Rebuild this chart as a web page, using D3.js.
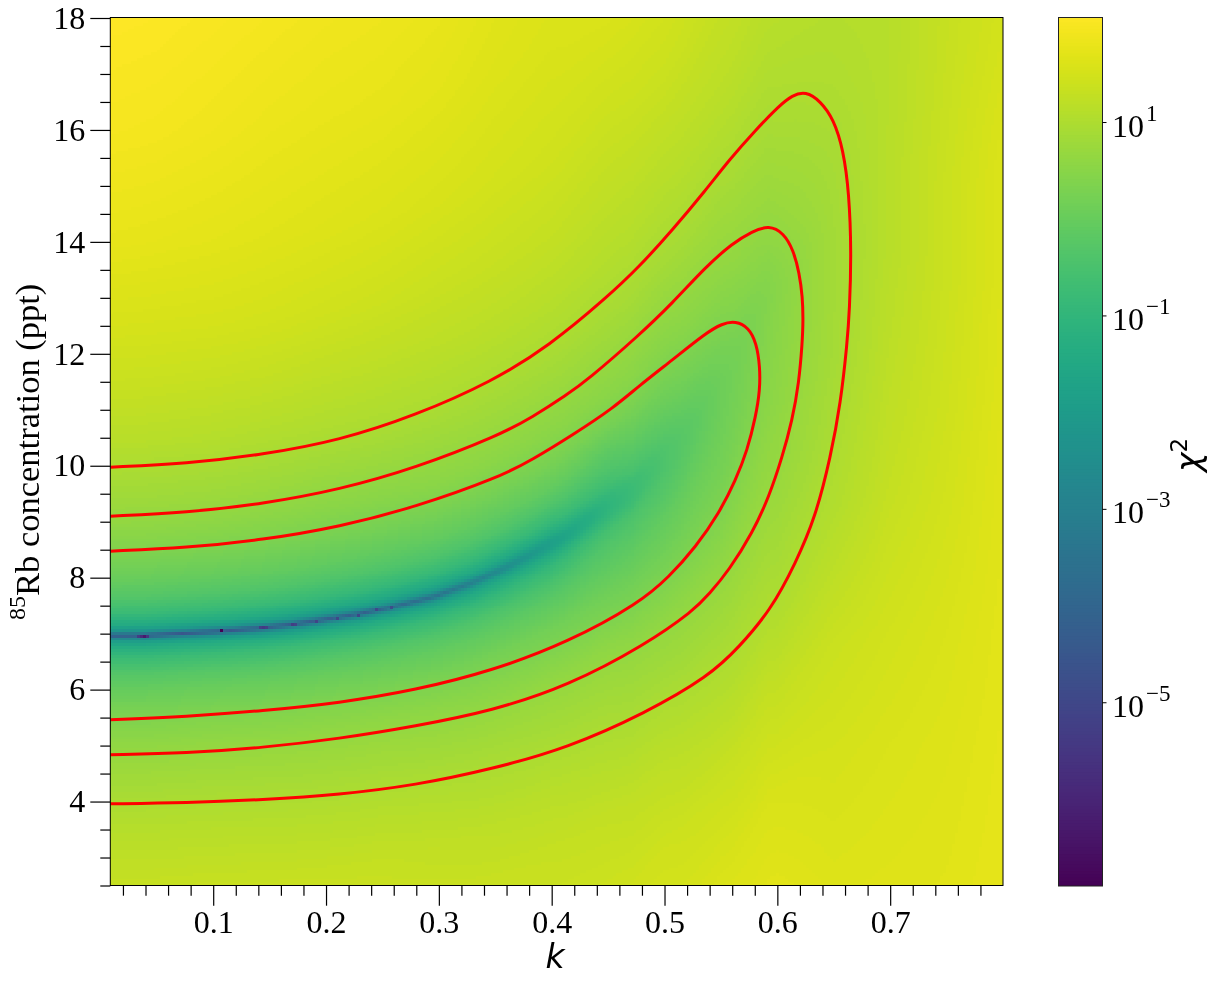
<!DOCTYPE html>
<html><head><meta charset="utf-8">
<script src="https://cdn.jsdelivr.net/npm/d3@7"></script>
<style>
html,body{margin:0;padding:0;background:#fff;width:1219px;height:982px;overflow:hidden}
canvas,svg{position:absolute;left:0;top:0}
text{font-family:"Liberation Serif",serif;fill:#000}
</style></head><body>
<canvas id="heat" width="1219" height="982"></canvas>
<svg id="chart" width="1219" height="982"></svg>
<script>
// ---- data ----
const kMajor = [0.1,0.2,0.3,0.4,0.5,0.6,0.7];
const kMinor = [0.02,0.04,0.06,0.08,0.12,0.14,0.16,0.18,0.22,0.24,0.26,0.28,0.32,0.34,0.36,0.38,0.42,0.44,0.46,0.48,0.52,0.54,0.56,0.58,0.62,0.64,0.66,0.68,0.72,0.74,0.76,0.78];
const concMajor = [4,6,8,10,12,14,16,18];
const concMinor = [2.5,3,3.5,4.5,5,5.5,6.5,7,7.5,8.5,9,9.5,10.5,11,11.5,12.5,13,13.5,14.5,15,15.5,16.5,17,17.5];
const cbTicks = [10,0.1,0.001,0.00001];
const cbExp = ["1","\u22121","\u22123","\u22125"];

// line of the chi-square minimum (valley), k -> concentration
const valleyK = [0.0088,0.039,0.1068,0.1439,0.1711,0.1932,0.2287,0.259,0.2962,0.3303,0.3776,0.4121,0.4422,0.4713,0.5154,0.5367,0.5616,0.5926,0.65,0.7,0.8];
const valleyC = [6.96,6.96,7.037,7.094,7.157,7.223,7.337,7.464,7.652,7.898,8.345,8.724,9.153,9.511,10.404,10.994,11.709,12.96,13.8,14,14];

// isolated very dark cells on the valley
const spotK = [0.033,0.036,0.039,0.042,0.1068,0.141,0.144,0.147,0.1705,0.173,0.1931,0.2117,0.2287,0.2457,0.259];
const spotLog = [-5.3,-5.8,-6.3,-5.5,-6.9,-5.2,-5.4,-5.2,-5.3,-5.1,-5.1,-5.0,-5.0,-4.9,-4.8];

// log10(chi2) sampled at these k columns and at these offsets from the valley line
const gridK = [0.01,0.05,0.1,0.15,0.2,0.25,0.3,0.35,0.4,0.45,0.5,0.55,0.6,0.65,0.7,0.75,0.8];
const gridOff = [-12,-9,-7,-5.5,-4.5,-3.5,-3,-2.5,-2,-1.5,-1,-0.7,-0.4,-0.2,-0.1,-0.05,0,0.05,0.1,0.2,0.4,0.7,1,1.5,2,2.5,3,3.5,4.5,5.5,7,9,11];
const logChi = [
 [1.65,1.58,1.5,1.42,1.31,1.1,.96,.8,.61,.36,.01,-.3,-.79,-1.39,-2.0,-2.9,-4.5,-2.9,-2.0,-1.39,-.79,-.3,.01,.36,.61,.81,.96,1.12,1.34,1.52,1.75,1.95,2.07],
 [1.65,1.58,1.5,1.42,1.31,1.1,.96,.8,.61,.36,.01,-.3,-.79,-1.39,-2.0,-2.9,-4.5,-2.92,-2.01,-1.4,-.8,-.31,0,.35,.6,.8,.95,1.11,1.33,1.51,1.73,1.93,2.05],
 [1.65,1.58,1.5,1.42,1.32,1.1,.96,.81,.62,.38,.03,-.28,-.77,-1.37,-1.97,-2.85,-4.5,-2.95,-2.03,-1.42,-.82,-.34,-.03,.33,.58,.78,.94,1.09,1.31,1.5,1.7,1.88,2.0],
 [1.65,1.58,1.5,1.42,1.31,1.09,.95,.8,.61,.37,.02,-.29,-.78,-1.38,-1.98,-2.88,-4.4,-2.97,-2.06,-1.46,-.86,-.37,-.06,.29,.54,.74,.9,1.05,1.28,1.47,1.66,1.82,1.95],
 [1.6,1.55,1.48,1.4,1.3,1.07,.93,.78,.6,.36,.01,-.3,-.79,-1.39,-1.99,-2.9,-4.3,-2.98,-2.09,-1.49,-.89,-.4,-.09,.26,.51,.69,.88,1.02,1.24,1.43,1.62,1.78,1.9],
 [1.6,1.55,1.47,1.38,1.29,1.06,.92,.77,.58,.33,-.02,-.32,-.81,-1.41,-1.99,-2.8,-4.1,-2.9,-2.06,-1.49,-.91,-.42,-.11,.24,.49,.68,.86,1.0,1.21,1.39,1.58,1.75,1.87],
 [1.6,1.55,1.45,1.37,1.24,1.02,.88,.72,.53,.28,-.07,-.38,-.87,-1.46,-1.99,-2.7,-3.6,-2.8,-2.04,-1.49,-.91,-.42,-.1,.25,.52,.68,.84,.98,1.18,1.34,1.53,1.7,1.82],
 [1.6,1.55,1.45,1.33,1.18,.96,.83,.67,.46,.22,-.14,-.45,-.94,-1.46,-1.9,-2.45,-2.7,-2.45,-1.9,-1.42,-.89,-.4,-.09,.26,.52,.68,.83,.96,1.16,1.31,1.48,1.62,1.72],
 [1.6,1.55,1.42,1.3,1.14,.91,.78,.63,.41,.16,-.19,-.5,-.9,-1.35,-1.7,-1.82,-1.85,-1.82,-1.7,-1.35,-.85,-.4,-.07,.28,.51,.66,.81,.94,1.13,1.28,1.44,1.57,1.66],
 [1.6,1.55,1.42,1.26,1.06,.85,.72,.56,.33,.1,-.18,-.35,-.6,-.92,-1.03,-1.05,-1.05,-1.05,-1.03,-.95,-.65,-.38,-.15,.25,.5,.64,.78,.91,1.08,1.21,1.38,1.6,1.68],
 [1.68,1.58,1.43,1.2,1.0,.75,.63,.45,.27,.08,-.1,-.25,-.36,-.42,-.43,-.43,-.43,-.43,-.42,-.4,-.3,-.12,.05,.28,.46,.6,.72,.86,1.04,1.18,1.38,1.55,1.62],
 [1.75,1.6,1.35,1.07,.88,.67,.55,.42,.31,.21,.14,.11,.09,.08,.08,.08,.08,.08,.09,.1,.14,.22,.32,.45,.58,.68,.78,.88,1.05,1.18,1.3,1.46,1.56],
 [1.8,1.55,1.26,.98,.85,.71,.65,.62,.57,.54,.51,.5,.49,.48,.47,.47,.47,.47,.47,.48,.5,.55,.62,.7,.78,.85,.92,.98,1.08,1.15,1.3,1.41,1.51],
 [1.65,1.5,1.36,1.16,1.03,.96,.93,.9,.87,.86,.85,.85,.85,.85,.85,.85,.85,.85,.85,.85,.85,.86,.87,.89,.92,.96,1.0,1.03,1.08,1.12,1.2,1.3,1.4],
 [1.66,1.56,1.46,1.36,1.29,1.24,1.22,1.2,1.18,1.16,1.15,1.14,1.13,1.12,1.12,1.12,1.12,1.12,1.12,1.12,1.12,1.12,1.12,1.12,1.11,1.1,1.1,1.1,1.1,1.12,1.2,1.25,1.3],
 [1.68,1.62,1.56,1.5,1.46,1.43,1.41,1.4,1.39,1.38,1.37,1.36,1.36,1.36,1.36,1.36,1.36,1.36,1.36,1.36,1.36,1.36,1.36,1.35,1.34,1.33,1.32,1.31,1.3,1.3,1.3,1.3,1.3],
 [1.74,1.71,1.69,1.67,1.66,1.65,1.64,1.63,1.62,1.62,1.61,1.6,1.6,1.6,1.6,1.6,1.6,1.6,1.6,1.6,1.6,1.6,1.6,1.59,1.57,1.55,1.52,1.5,1.47,1.46,1.46,1.46,1.46]
];

// red contours, traced as [k, concentration]
const contourOuter = [[.0088,9.975],[.0762,10.036],[.1439,10.197],[.2121,10.453],[.2793,10.899],[.3472,11.505],[.3979,12.143],[.4488,13.005],[.4776,13.555],[.507,14.211],[.5366,14.926],[.5572,15.462],[.5808,15.999],[.6015,16.43],[.6132,16.62],[.6251,16.69],[.638,16.52],[.65,16.19],[.6585,15.641],[.6636,14.873],[.6656,13.8],[.664,12.781],[.6619,12.192],[.6561,11.119],[.6472,10.159],[.6339,9.087],[.6162,8.259],[.5941,7.419],[.566,6.758],[.5395,6.24],[.4827,5.578],[.4147,4.962],[.3466,4.578],[.2793,4.292],[.2117,4.122],[.1439,4.032],[.0762,3.975],[.0088,3.959]];
const contourMiddle = [[.0088,9.099],[.0762,9.164],[.1439,9.318],[.2121,9.575],[.2793,9.959],[.3537,10.547],[.3829,10.869],[.413,11.262],[.4316,11.53],[.4776,12.335],[.507,12.906],[.5366,13.555],[.5601,13.973],[.5778,14.19],[.5926,14.295],[.6055,14.16],[.6142,13.854],[.6195,13.443],[.6223,13.019],[.6229,12.603],[.6221,12.192],[.6191,11.477],[.6132,10.815],[.6044,10.159],[.5926,9.444],[.5778,8.796],[.5572,8.134],[.5395,7.705],[.5262,7.419],[.4827,6.797],[.4147,6.07],[.3472,5.62],[.2793,5.346],[.2117,5.123],[.1439,4.962],[.0762,4.864],[.0088,4.835]];
const contourInner = [[.0088,8.474],[.0762,8.533],[.1439,8.674],[.2121,8.91],[.2793,9.26],[.3537,9.797],[.3829,10.109],[.4183,10.547],[.4546,11.03],[.4776,11.432],[.5068,11.888],[.5366,12.37],[.551,12.54],[.5631,12.585],[.5745,12.47],[.5815,12.192],[.5846,11.768],[.5846,11.351],[.5808,10.874],[.5734,10.279],[.5631,9.743],[.5484,9.153],[.5278,8.551],[.5041,8.015],[.4776,7.545],[.4147,6.847],[.3472,6.335],[.2793,5.99],[.2117,5.761],[.1439,5.621],[.0762,5.518],[.0088,5.461]];

// ---- scales ----
const x = d3.scaleLinear().domain([0.0088,0.8]).range([110.3,1003]);
const y = d3.scaleLinear().domain([2.5,18]).range([885.5,18]);
const logMin = -6.9, logMax = 2.086;
const color = d3.scaleSequential(d3.interpolateViridis).domain([logMin,logMax]);
const cbY = d3.scaleLog().domain([Math.pow(10,logMin),Math.pow(10,logMax)]).range([886,17]);
const valley = d3.scaleLinear().domain(valleyK).range(valleyC).clamp(true);

// ---- heat map, bilinear look-up in the read table, in cells about 3 px wide ----
const lookup = (k,c) => {
  const off = c - valley(k);
  const i = Math.max(0,Math.min(gridK.length-2,d3.bisectRight(gridK,k)-1));
  const j = Math.max(0,Math.min(gridOff.length-2,d3.bisectRight(gridOff,off)-1));
  const u = Math.max(0,Math.min(1,(k-gridK[i])/(gridK[i+1]-gridK[i])));
  const v = Math.max(0,Math.min(1,(off-gridOff[j])/(gridOff[j+1]-gridOff[j])));
  return (1-u)*((1-v)*logChi[i][j]+v*logChi[i][j+1]) + u*((1-v)*logChi[i+1][j]+v*logChi[i+1][j+1]);
};
const ctx = document.getElementById("heat").getContext("2d");
const nx = 300, ny = 298;
const cw = (x(0.8)-x(0.0088))/nx, ch = (y(2.5)-y(18))/ny;
const X0 = x(0.0088), Y0 = y(18);
for (let a=0;a<nx;a++){
  const k = x.invert(X0+(a+.5)*cw);
  for (let b=0;b<ny;b++){
    const c = y.invert(Y0+(b+.5)*ch);
    ctx.fillStyle = color(lookup(k,c));
    ctx.fillRect(Math.floor(X0+a*cw),Math.floor(Y0+b*ch),Math.ceil(cw)+1,Math.ceil(ch)+1);
  }
}
spotK.forEach((k,i)=>{
  const a = Math.floor((x(k)-X0)/cw), b = Math.floor((y(valley(k))-Y0)/ch);
  ctx.fillStyle = color(spotLog[i]);
  ctx.fillRect(Math.floor(X0+a*cw),Math.floor(Y0+b*ch),Math.ceil(cw),Math.ceil(ch));
});
// paint out anything beyond the frame
ctx.fillStyle="#fff";
ctx.fillRect(x(0.8),0,20,982);
ctx.fillRect(100,y(2.5),920,20);

// ---- svg ----
const svg = d3.select("#chart");
const defs = svg.append("defs");
defs.append("clipPath").attr("id","plot").append("rect")
  .attr("x",x(0.0088)).attr("y",17.5).attr("width",x(0.8)-x(0.0088)).attr("height",868);
defs.append("clipPath").attr("id","cbclip").append("rect")
  .attr("x",1058.5).attr("y",17.5).attr("width",44).attr("height",868.5);

const line = d3.line().x(d=>x(d[0])).y(d=>y(d[1])).curve(d3.curveBasis);
svg.append("g").attr("clip-path","url(#plot)").selectAll("path")
  .data([contourOuter,contourMiddle,contourInner]).join("path")
  .attr("d",line).attr("fill","none").attr("stroke","#ff0000").attr("stroke-width",3);

// frame
svg.append("rect").attr("x",110.3).attr("y",17.5).attr("width",892.7).attr("height",868)
  .attr("fill","none").attr("stroke","#000").attr("stroke-width",1);

const FS = 32;
function styleAxis(g){ g.select(".domain").remove(); g.selectAll("line").attr("stroke","#000").attr("stroke-width",1.2);
  g.selectAll("text").attr("font-size",FS).attr("font-family",'"Liberation Serif",serif').attr("fill","#000"); }

svg.append("g").attr("transform","translate(0,885.7)")
  .call(d3.axisBottom(x).tickValues(kMajor).tickSize(20).tickPadding(5).tickFormat(d3.format(".1f"))).call(styleAxis);
svg.append("g").attr("transform","translate(0,885.7)")
  .call(d3.axisBottom(x).tickValues(kMinor).tickSize(10).tickFormat("")).call(styleAxis);
svg.append("g").attr("transform","translate(110.3,0)")
  .call(d3.axisLeft(y).tickValues(concMajor).tickSize(20).tickPadding(5).tickFormat(d3.format("d"))).call(styleAxis);
svg.append("g").attr("transform","translate(110.3,0)")
  .call(d3.axisLeft(y).tickValues(concMinor).tickSize(10).tickFormat("")).call(styleAxis);

// axis titles
svg.append("text").attr("x",555).attr("y",968).attr("text-anchor","middle")
  .attr("font-size",33).style("font-family",'"DejaVu Sans"').style("font-style","italic").text("k");
const yl = svg.append("text").attr("transform","translate(39,620) rotate(-90)").attr("font-size",34.5);
yl.append("tspan").attr("font-size",24).attr("dy",-14).text("85");
yl.append("tspan").attr("dy",14).text("Rb concentration (ppt)");
const cl = svg.append("text").attr("transform","translate(1200,472) rotate(-90)")
  .attr("font-size",33).style("font-family",'"DejaVu Sans"');
cl.append("tspan").style("font-style","italic").text("\u03c7");
cl.append("tspan").attr("font-size",23).attr("dy",-13).text("2");

// colour bar
const cbLevels = d3.range(0,256).map(i=>logMin+(logMax-logMin)*i/255);
svg.append("g").attr("clip-path","url(#cbclip)").selectAll("rect").data(cbLevels).join("rect")
  .attr("x",1058.5).attr("width",44)
  .attr("y",d=>cbY(Math.pow(10,d))-869/512-0.5)
  .attr("height",869/256+1)
  .attr("fill",d=>color(d));
svg.append("rect").attr("x",1058.5).attr("y",17.5).attr("width",44).attr("height",868.5)
  .attr("fill","none").attr("stroke","#222").attr("stroke-width",1);
const cbAxis = svg.append("g").attr("transform","translate(1102.5,0)")
  .call(d3.axisRight(cbY).tickValues(cbTicks).tickSize(4).tickFormat(""));
cbAxis.select(".domain").remove();
cbAxis.selectAll("line").attr("stroke","#000").attr("stroke-width",1);
cbTicks.forEach((t,i)=>{
  const tx = svg.append("text").attr("x",1112).attr("y",cbY(t)+14.5).attr("font-size",32);
  tx.append("tspan").text("10");
  tx.append("tspan").attr("font-size",23).attr("dy",-16).attr("dx",2).text(cbExp[i]);
});
</script>
</body></html>
